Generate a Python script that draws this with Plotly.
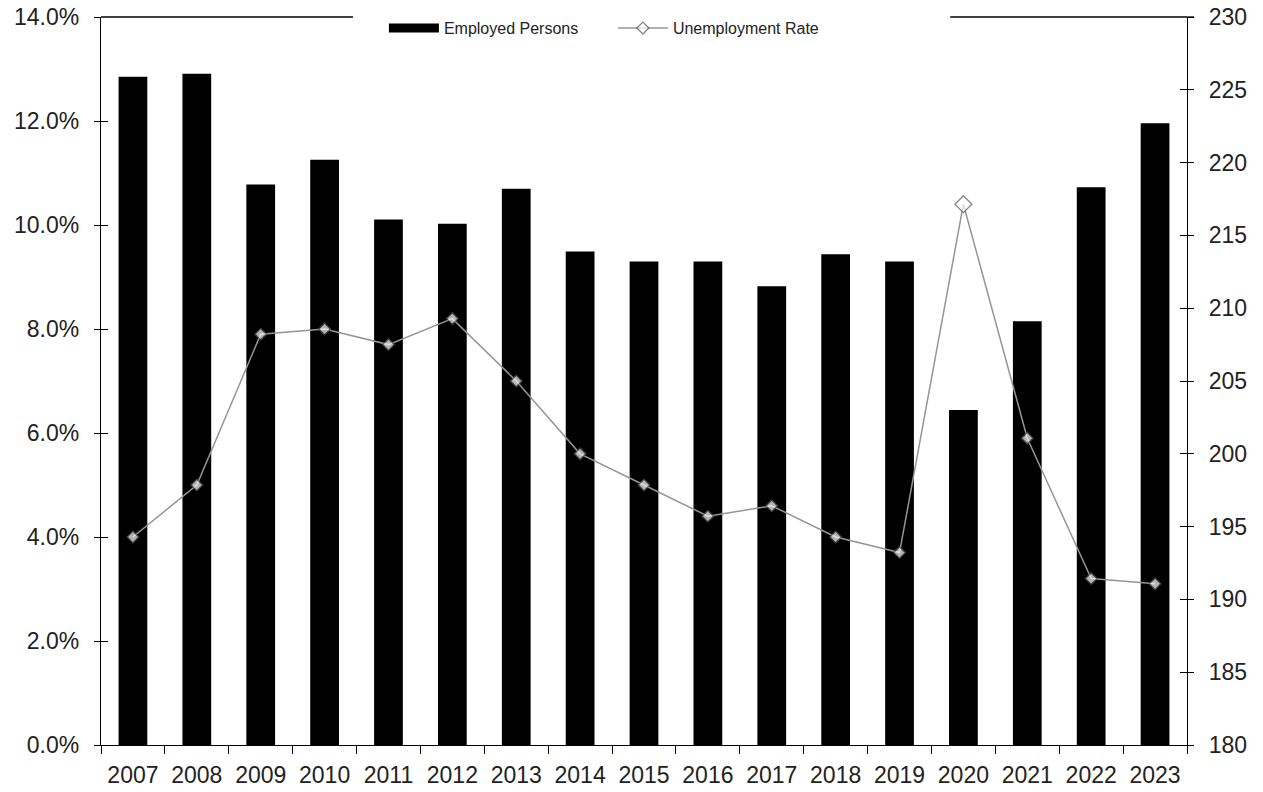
import plotly.graph_objects as go

years = ["2007", "2008", "2009", "2010", "2011", "2012", "2013", "2014", "2015",
         "2016", "2017", "2018", "2019", "2020", "2021", "2022", "2023"]
employed = [225.9, 226.1, 218.5, 220.2, 216.1, 215.8, 218.2, 213.9, 213.2,
            213.2, 211.5, 213.7, 213.2, 203.0, 209.1, 218.3, 222.7]
unemployment = [0.040, 0.050, 0.079, 0.080, 0.077, 0.082, 0.070, 0.056, 0.050,
                0.044, 0.046, 0.040, 0.037, 0.104, 0.059, 0.032, 0.031]

FONT = "Arial, Liberation Sans, sans-serif"
TXT = "#222222"

fig = go.Figure()

fig.add_trace(go.Bar(
    x=years, y=employed, name="Employed Persons", yaxis="y",
    marker=dict(color="black", line=dict(width=0)), width=0.45,
    showlegend=False,
))
fig.add_trace(go.Scatter(
    x=[None], y=[None], mode="lines", name="Employed Persons", yaxis="y",
    line=dict(color="black", width=9),
))
big = years.index("2020")
fig.add_trace(go.Scatter(
    x=years, y=unemployment, name="Unemployment Rate", yaxis="y2",
    mode="lines+markers",
    line=dict(color="#959595", width=1.5),
    marker=dict(symbol="diamond", color="white",
                size=[13 if i == big else 9 for i in range(len(years))],
                line=dict(color="#555555", width=1.3)),
))
fig.add_trace(go.Scatter(x=[years[0]], y=[None], yaxis="y3", showlegend=False, hoverinfo="skip"))
fig.add_trace(go.Scatter(x=[years[0]], y=[None], yaxis="y4", showlegend=False, hoverinfo="skip"))

# top frame segments (interrupted by the legend box)
for x0, x1 in [(0.0, 0.232), (0.782, 1.0)]:
    fig.add_shape(type="line", xref="paper", yref="paper", x0=x0, x1=x1, y0=1, y1=1,
                  line=dict(color="black", width=1.3), layer="above")
fig.add_shape(type="line", xref="paper", yref="paper", x0=1.0, x1=1.0065, y0=1, y1=1,
              line=dict(color="black", width=1.3), layer="above")

tick_common = dict(tickcolor="black", tickwidth=1.3, showgrid=False, zeroline=False,
                   automargin=False, ticklabeloverflow="allow")

fig.update_layout(
    width=1263, height=792,
    margin=dict(l=101, r=76, t=17, b=47, autoexpand=False),
    paper_bgcolor="white", plot_bgcolor="white",
    font=dict(family=FONT, color=TXT, size=23),
    xaxis=dict(
        type="category", showline=True, linecolor="black", linewidth=1.3,
        mirror=False, ticks="outside", tickson="boundaries", ticklen=8,
        ticklabelstandoff=9,
        tickfont=dict(size=23, family=FONT, color=TXT),
        range=[-0.5, len(years) - 0.5], **tick_common,
    ),
    yaxis=dict(
        side="right", range=[180, 230], dtick=5, tick0=180,
        showline=True, linecolor="black", linewidth=1.3,
        ticks="outside", ticklen=6, ticklabelstandoff=10,
        tickfont=dict(size=23, family=FONT, color=TXT), **tick_common,
    ),
    yaxis2=dict(
        side="left", overlaying="y", range=[0, 0.14], dtick=0.02, tick0=0,
        tickformat=".1%", showline=True, linecolor="black", linewidth=1.3,
        ticks="outside", ticklen=6, ticklabelstandoff=10,
        tickfont=dict(size=23, family=FONT, color=TXT), **tick_common,
    ),
    yaxis3=dict(
        side="left", overlaying="y", range=[0, 0.14], dtick=0.02, tick0=0,
        ticks="inside", ticklen=7, showticklabels=False, showline=False,
        **tick_common,
    ),
    yaxis4=dict(
        side="right", overlaying="y", range=[180, 230], dtick=5, tick0=180,
        ticks="inside", ticklen=7, showticklabels=False, showline=False,
        **tick_common,
    ),
    legend=dict(
        orientation="h", x=0.2605, xanchor="left", y=1.008, yanchor="top",
        bgcolor="rgba(0,0,0,0)", borderwidth=0, itemwidth=50,
        font=dict(size=16, family=FONT, color=TXT),
        entrywidth=164, entrywidthmode="pixels",
        itemclick=False,
    ),
    showlegend=True,
)

fig.write_html(
    "out.html",
    config={"displayModeBar": False},
    post_script="document.body.style.margin='0';document.body.style.overflow='hidden';",
)
